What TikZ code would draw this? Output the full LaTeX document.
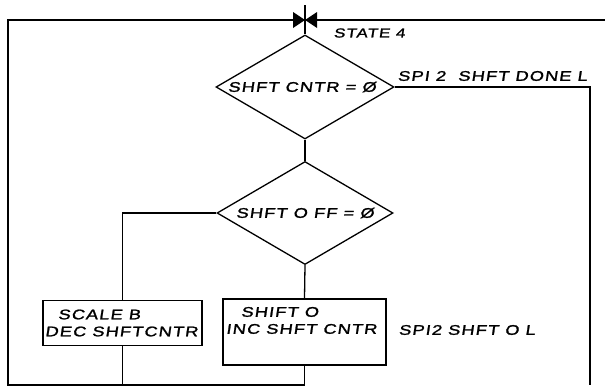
\documentclass[tikz,border=0pt]{standalone}
\usepackage{fontspec}
\newfontfamily\hand[FakeStretch=1.3,FakeSlant=0.15,FakeBold=1.5,LetterSpace=8]{Liberation Sans}
\usetikzlibrary{shapes.geometric}
\begin{document}
\begin{tikzpicture}[x=1pt,y=-1pt,line width=1.3pt,
  every node/.style={font=\hand\fontsize{14}{17}\selectfont},
  dia/.style={draw,diamond,inner sep=0pt,minimum width=178pt,minimum height=104pt},
  box/.style={draw,rectangle,inner sep=0pt},
  lbl/.style={inner sep=0pt}]
\useasboundingbox (0,0) rectangle (605,391);
% decisions
\node[dia] (d1) at (305,87) {\makebox[0pt]{SHFT CNTR = Ø\hspace{6pt}}};
\node[dia,minimum width=176pt,minimum height=103pt] (d2) at (305,213) {\makebox[0pt]{SHFT O FF = Ø}};
% process boxes
\node[box,minimum width=159pt,minimum height=45pt] (b1) at (122.5,323)
  {\parbox{157pt}{\raggedright\hspace*{14pt}SCALE B\\\hspace*{1pt}DEC SHFTCNTR}};
\node[box,minimum width=163pt,minimum height=66pt] (b2) at (304.5,332)
  {\parbox[c][62pt][t]{159pt}{\raggedright\vspace*{6pt}\hspace*{16pt}SHIFT O\\\hspace*{1pt}INC SHFT CNTR}};
% labels
\node[lbl,anchor=west,font=\hand\fontsize{13}{15}\selectfont] (st) at (333,33) {STATE 4};
\node[lbl,anchor=west] (done) at (397,76) {SPI 2\ \ SHFT DONE L};
\node[lbl,anchor=west] (sfo) at (398,330) {SPI2 SHFT O L};
% junction marker
\coordinate (j) at (305,20);
\coordinate (jt) at (305,5);
\fill (j) -- ++(-12,-8) -- ++(0,16) -- cycle;
\fill (j) -- ++(12,-8) -- ++(0,16) -- cycle;
\draw (jt) -- (d1.north);
% frame / loop lines
\coordinate (tl) at (8,20);
\coordinate (tr) at (605,20);
\coordinate (bl) at (8,385);
\coordinate (re) at (590,385);
\draw (tr) -- (tl) -- (bl) -- (b2.south |- bl);
\draw (b1.south) -- (b1.south |- bl);
\draw (b2.south) -- (b2.south |- bl);
% flow
\draw (d1.south) -- (d2.north);
\draw (d1.east) -| (re);
\draw (d2.west) -| (b1.north);
\draw (d2.south) -- (b2.north);
\end{tikzpicture}
\end{document}
